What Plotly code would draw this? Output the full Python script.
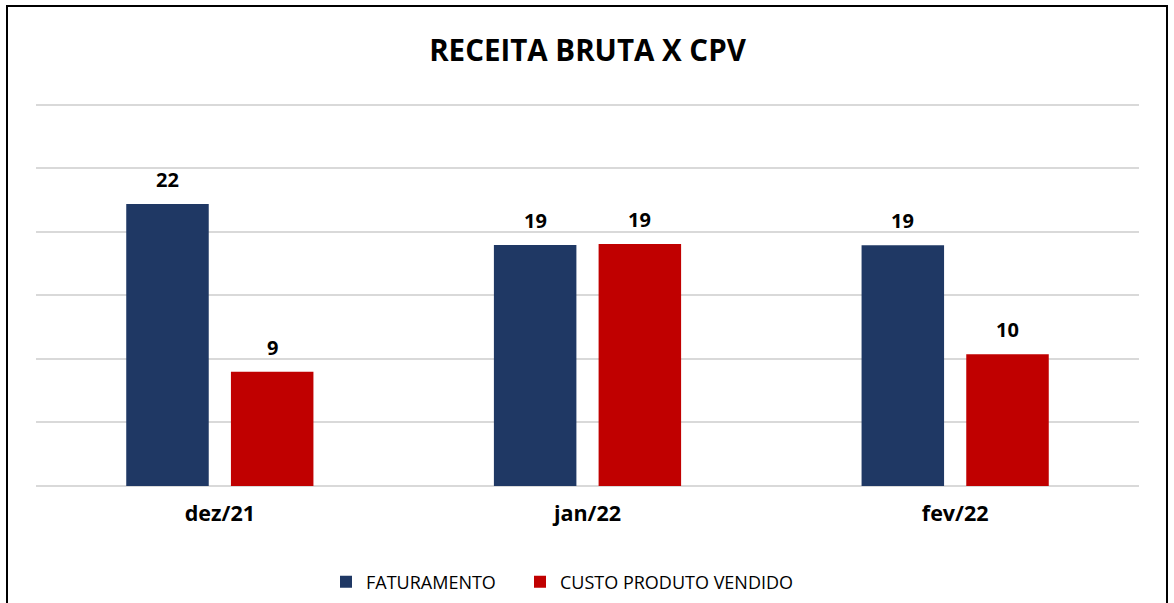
import plotly.graph_objects as go

categories = ["dez/21", "jan/22", "fev/22"]
faturamento = [22.2, 18.96, 18.94]
cpv = [9.0, 19.04, 10.37]
series_names = ["FATURAMENTO", "CUSTO PRODUTO VENDIDO"]
colors = ["#1F3864", "#C00000"]
title_text = "RECEITA BRUTA X CPV"

FONT = "Open Sans"
W, H = 1174, 603
ML, MR, MT, MB = 36, 35, 101, 117
PW, PH = W - ML - MR, H - MT - MB

fig = go.Figure()
legend_ids = ["legend", "legend2"]
for name, vals, col, lg in zip(series_names, [faturamento, cpv], colors, legend_ids):
    fig.add_trace(go.Bar(
        x=categories, y=vals, name=name, legend=lg,
        marker=dict(color=col, line=dict(width=0)),
    ))

# value labels above bars
annotations = []
for shift, vals in zip([-52.3, 52.3], [faturamento, cpv]):
    for c, v in zip(categories, vals):
        annotations.append(dict(
            x=c, y=v, xref="x", yref="y", xshift=shift, yshift=9,
            text=f"<b>{v:.0f}</b>", showarrow=False, yanchor="bottom",
            font=dict(family=FONT, size=20, color="#000000"),
        ))

legend_style = dict(orientation="h", xref="container", yref="container",
                    xanchor="left", y=1 - 582 / H, yanchor="middle",
                    font=dict(family=FONT, size=18, color="#000000"),
                    itemclick=False, bgcolor="rgba(0,0,0,0)")

fig.update_layout(
    width=W, height=H,
    margin=dict(l=ML, r=MR, t=MT, b=MB, autoexpand=False),
    paper_bgcolor="white", plot_bgcolor="white",
    title=dict(text="<b>" + title_text + "</b>", x=0.5, xanchor="center",
               xref="paper", y=1 - 51 / H, yanchor="middle",
               font=dict(family=FONT, size=29.5, color="#000000")),
    barmode="group", bargap=0.4305, bargroupgap=0.212,
    showlegend=True,
    legend=dict(x=326 / W, **legend_style),
    legend2=dict(x=520 / W, **legend_style),
    annotations=annotations,
    font=dict(family=FONT),
)
fig.update_xaxes(
    showgrid=False, showline=False, ticks="",
    tickfont=dict(family=FONT, size=21.5, color="#000000"),
    tickprefix="<b>", ticksuffix="</b>", ticklabelstandoff=12,
)
fig.update_yaxes(
    range=[0, 30.3], dtick=5, showticklabels=False, ticks="",
    showgrid=True, gridcolor="#D9D9D9", gridwidth=1.5,
    zeroline=True, zerolinecolor="#D9D9D9", zerolinewidth=1.5,
    showline=False,
)
# chart border (pixel positions converted to paper fractions)
fig.add_shape(type="rect", xref="paper", yref="paper",
              x0=(7 - ML) / PW, x1=(1167 - ML) / PW,
              y0=(H - MB - 625) / PH, y1=(H - MB - 6) / PH,
              line=dict(color="#000000", width=2), fillcolor="rgba(0,0,0,0)",
              layer="below")

fig.write_html("out.html", config={"displayModeBar": False},
               post_script="document.body.style.margin='0';")
